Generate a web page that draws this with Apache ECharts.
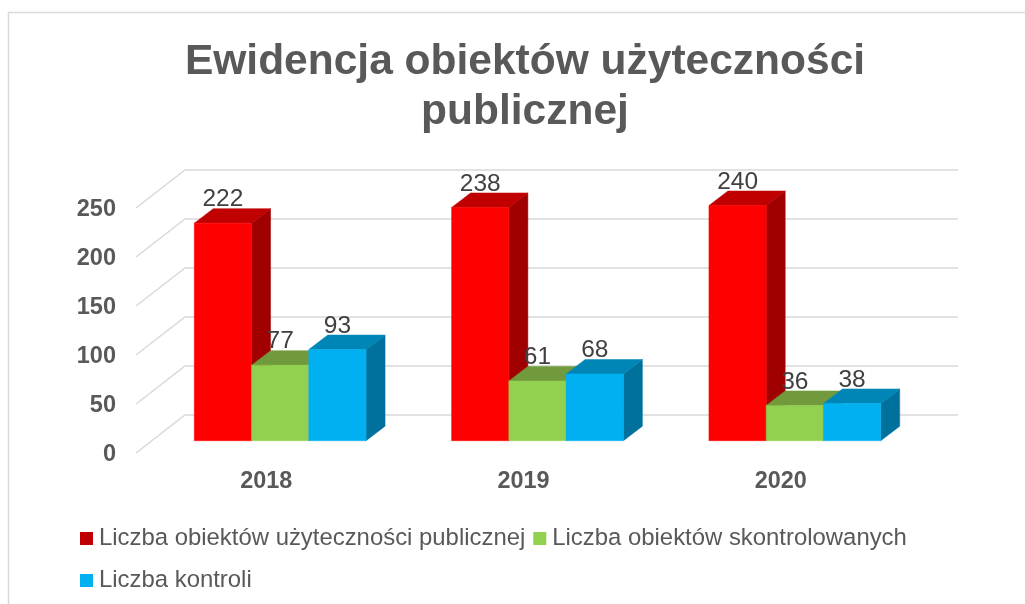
<!DOCTYPE html>
<html>
<head>
<meta charset="utf-8">
<style>html,body{margin:0;padding:0;background:#fff}#c{width:1025px;height:604px}</style>
<script src="https://cdn.jsdelivr.net/npm/echarts@6/dist/echarts.min.js"></script>
</head>
<body>
<div id="c"></div>
<script>
const titleText = 'Ewidencja obiektów użyteczności\npublicznej';
const years = ['2018', '2019', '2020'];
const yTicks = [0, 50, 100, 150, 200, 250];
const publicObjects = [222, 238, 240];
const inspectedObjects = [77, 61, 36];
const inspections = [93, 68, 38];
const seriesNames = ['Liczba obiektów użyteczności publicznej', 'Liczba obiektów skontrolowanych', 'Liczba kontroli'];

const FONT = '"Liberation Sans", Arial, sans-serif';
const palettes = [
  {legend: '#C00000', front: '#FF0000', top: '#C00000', side: '#A00000'},
  {legend: '#92D050', front: '#92D050', top: '#709A3C', side: '#6E9A3A'},
  {legend: '#00B0F0', front: '#00B0F0', top: '#0086B6', side: '#00719C'}
];
const LABEL_DROP = 2;
const WALL = {dx: 49, dy: -38, extra: 1};
const BAR_OFFSET = {dx: 15.5, dy: -12.3};
const BAR_DEPTH = {dx: 19, dy: -14.5};
const BAR_RATIO = 0.2225;

function poly(points, fill) {
  return {type: 'polygon', shape: {points}, style: {fill, stroke: fill, lineWidth: 0.5}};
}

function barRenderer(seriesIndex) {
  const pal = palettes[seriesIndex];
  return function (params, api) {
    const base = api.coord([api.value(0), 0]);
    const top = api.coord([api.value(0), api.value(1)]);
    const w = api.size([1, 0])[0] * BAR_RATIO;
    const x0 = base[0] + BAR_OFFSET.dx + (seriesIndex - 1.5) * w;
    const x1 = x0 + w;
    const yb = base[1] + BAR_OFFSET.dy - LABEL_DROP;
    const yt = top[1] + BAR_OFFSET.dy - LABEL_DROP;
    const dx = BAR_DEPTH.dx, dy = BAR_DEPTH.dy;
    return {
      type: 'group',
      children: [
        poly([[x1, yb], [x1 + dx, yb + dy], [x1 + dx, yt + dy], [x1, yt]], pal.side),
        poly([[x0, yt], [x1, yt], [x1 + dx, yt + dy], [x0 + dx, yt + dy]], pal.top),
        poly([[x0, yb], [x1, yb], [x1, yt], [x0, yt]], pal.front),
        {type: 'text', x: x0 + w / 2, y: yt + dy - 9, z2: 50,
          style: {text: String(api.value(1)), fill: '#404040', font: '24.5px ' + FONT, align: 'center', verticalAlign: 'middle'}}
      ]
    };
  };
}

function barSeries(name, values, i) {
  return {
    name, type: 'custom', coordinateSystem: 'cartesian2d', z: 5 + i,
    itemStyle: {color: palettes[i].legend},
    encode: {x: 0, y: 1},
    data: values.map((v, k) => [k, v]),
    renderItem: barRenderer(i)
  };
}

const wallSeries = {
  type: 'custom', coordinateSystem: 'cartesian2d', z: 1, silent: true,
  encode: {x: 0, y: 1},
  data: yTicks.map(t => [0, t]),
  renderItem: function (params, api) {
    const cs = params.coordSys;
    const y = api.coord([0, api.value(1)])[1] - LABEL_DROP;
    return {
      type: 'polyline',
      shape: {points: [[cs.x, y], [cs.x + WALL.dx, y + WALL.dy], [cs.x + cs.width + WALL.dx + WALL.extra, y + WALL.dy]]},
      style: {stroke: '#D9D9D9', lineWidth: 1.5, fill: 'none'}
    };
  }
};

const chart = echarts.init(document.getElementById('c'), null, {renderer: 'canvas'});
chart.setOption({
  animation: false,
  backgroundColor: '#fff',
  title: {
    text: titleText, left: 520, top: 32, textAlign: 'center',
    textStyle: {fontFamily: FONT, fontSize: 42.5, fontWeight: 'bold', color: '#595959', lineHeight: 50}
  },
  legend: {
    data: seriesNames, left: 75, top: 516.5, width: 900, icon: 'rect',
    itemWidth: 13, itemHeight: 13, itemGap: 8,
    textStyle: {fontFamily: FONT, fontSize: 23.9, color: '#595959', lineHeight: 34, padding: [0, 0, 0, 1]}
  },
  grid: {left: 136, top: 208 + LABEL_DROP, width: 772, height: 245},
  xAxis: {
    type: 'category', data: years,
    axisLine: {show: false}, axisTick: {show: false}, splitLine: {show: false},
    axisLabel: {margin: 15, padding: [0, 0, 0, 3], fontFamily: FONT, fontSize: 23.4, fontWeight: 'bold', color: '#595959'}
  },
  yAxis: {
    type: 'value', min: 0, max: 250, interval: 50,
    axisLine: {show: false}, axisTick: {show: false}, splitLine: {show: false},
    axisLabel: {margin: 20, fontFamily: FONT, fontSize: 23.5, fontWeight: 'bold', color: '#595959'}
  },
  graphic: [{
    type: 'polyline', silent: true,
    shape: {points: [[8.5, 604], [8.5, 12.5], [1025, 12.5]]},
    style: {stroke: '#D9D9D9', lineWidth: 1.5, fill: 'none'}
  }],
  series: [
    wallSeries,
    barSeries(seriesNames[0], publicObjects, 0),
    barSeries(seriesNames[1], inspectedObjects, 1),
    barSeries(seriesNames[2], inspections, 2)
  ]
});
</script>
</body>
</html>
